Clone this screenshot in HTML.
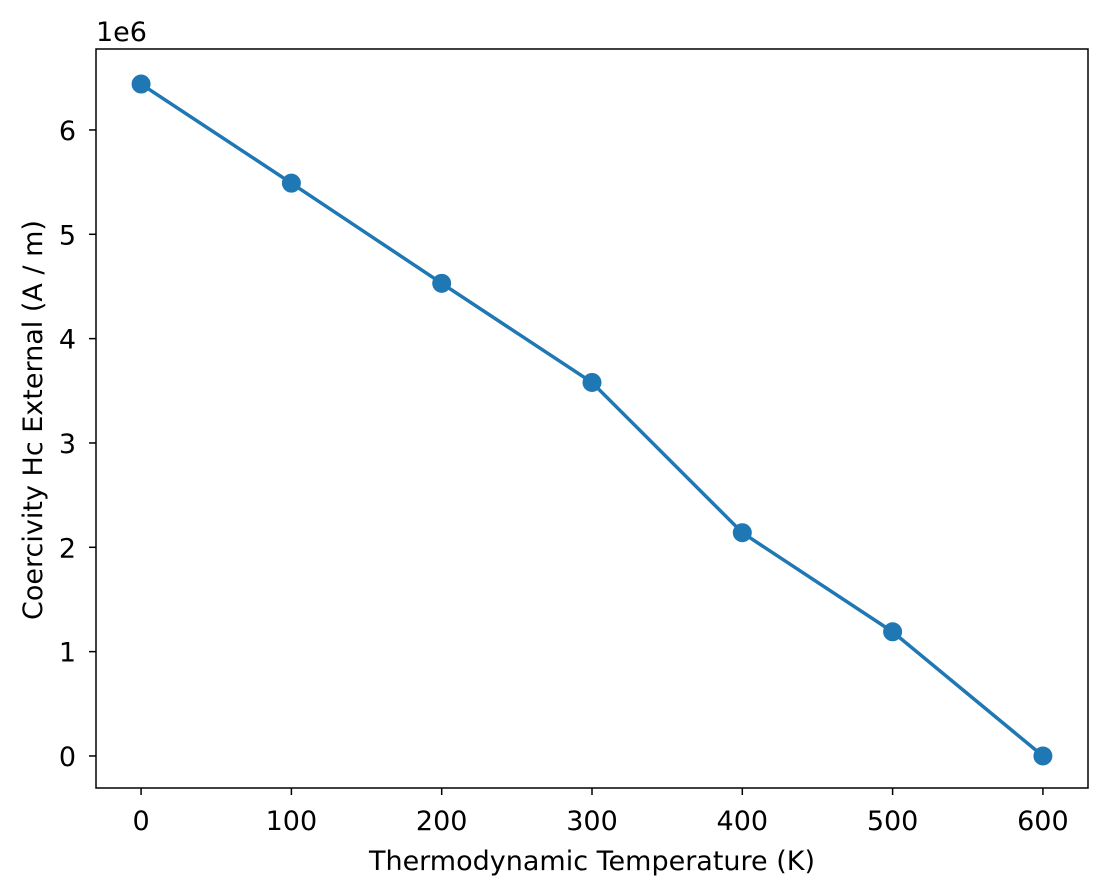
<!DOCTYPE html>
<html><head><meta charset="utf-8"><style>
body{margin:0;background:#fff;}
svg{display:block;font-family:"DejaVu Sans","Liberation Sans",sans-serif;}
</style></head><body>
<svg id="chart" width="1108" height="896">
<rect width="1108" height="896" fill="#fff"/>
<g id="plot"></g>
<rect x="96" y="49" width="992" height="739" fill="none" stroke="#000" stroke-width="1.5"/>
<text x="96" y="41" font-size="27">1e6</text>
<text x="592" y="870" font-size="27" text-anchor="middle">Thermodynamic Temperature (K)</text>
<text transform="translate(42,420) rotate(-90)" font-size="27" text-anchor="middle">Coercivity Hc External (A / m)</text>
</svg>
<script>
const temps = [0, 100, 200, 300, 400, 500, 600];
const hc = [6.44, 5.49, 4.53, 3.58, 2.14, 1.19, 0.0];
const xTicks = [0, 100, 200, 300, 400, 500, 600];
const yTicks = [0, 1, 2, 3, 4, 5, 6];

const NS = "http://www.w3.org/2000/svg";
const L = 96, R = 1088, T = 49, B = 788;
const xmin = -30, xmax = 630, ymin = -0.307, ymax = 6.776;
const xs = v => L + (v - xmin) / (xmax - xmin) * (R - L);
const ys = v => B - (v - ymin) / (ymax - ymin) * (B - T);
const svg = document.getElementById('chart');
const plot = document.getElementById('plot');
function mk(tag, attrs, parent) {
  const e = document.createElementNS(NS, tag);
  for (const k in attrs) e.setAttribute(k, attrs[k]);
  parent.appendChild(e);
  return e;
}
xTicks.forEach(t => {
  const x = xs(t);
  const ln = mk('line', {x1: x, x2: x, y1: B, y2: B + 7, stroke: '#000', 'stroke-width': 1.5}, svg);
  
  
  const tx = mk('text', {x: x, y: 830, 'font-size': 27, 'text-anchor': 'middle'}, svg);
  tx.textContent = t;
  
  
});
yTicks.forEach(t => {
  const y = ys(t);
  const ln = mk('line', {x1: L - 7, x2: L, y1: y, y2: y, stroke: '#000', 'stroke-width': 1.5}, svg);
  
  
  const tx = mk('text', {x: 76, y: y + 10, 'font-size': 27, 'text-anchor': 'end'}, svg);
  tx.textContent = t;
  
  
});
const pts = temps.map((t, i) => xs(t) + ',' + ys(hc[i])).join(' ');
const line = mk('polyline', {points: pts, fill: 'none', stroke: '#1f77b4', 'stroke-width': 3.5}, plot);


temps.forEach((t, i) => {
  const c = mk('circle', {cx: xs(t), cy: ys(hc[i]), r: 9.5, fill: '#1f77b4'}, plot);
  
  
});
</script>
</body></html>
